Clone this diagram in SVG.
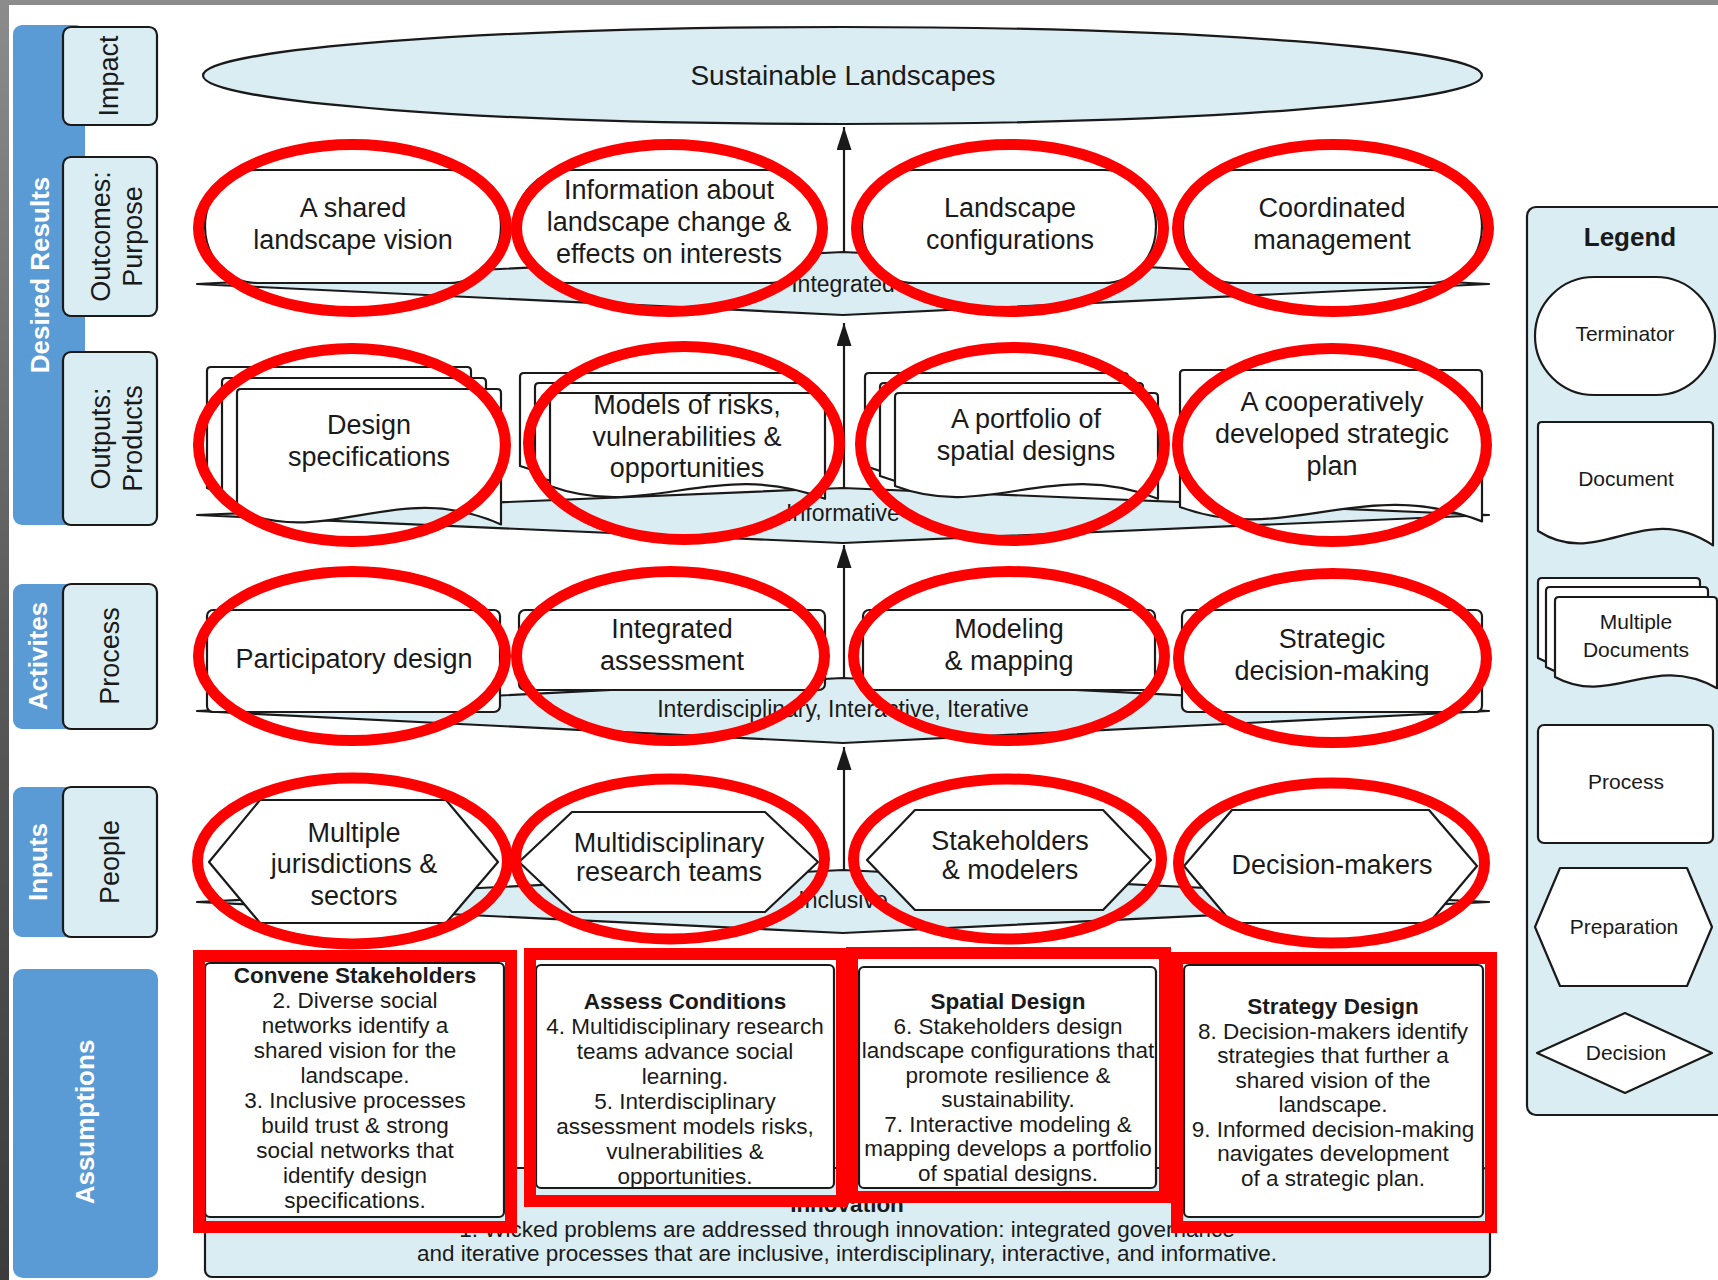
<svg xmlns="http://www.w3.org/2000/svg" width="1718" height="1280" viewBox="0 0 1718 1280">
<defs>
<linearGradient id="bg" x1="0" y1="0" x2="0" y2="1"><stop offset="0" stop-color="#8c8c8c"/><stop offset="0.5" stop-color="#5a5a5a"/><stop offset="1" stop-color="#3c3c3c"/></linearGradient>
<marker id="ah" markerWidth="23" markerHeight="15" refX="23" refY="7.5" orient="auto" markerUnits="userSpaceOnUse"><path d="M0,0 L23,7.5 L0,15 Z" fill="#1a1a1a"/></marker>
<style>
text{font-family:"Liberation Sans",Arial,Helvetica,sans-serif;fill:#1a1a1a;text-anchor:middle}
.lb{fill:#daedf3;stroke:#1a1a1a;stroke-width:2.2;stroke-linejoin:round}
.wn{fill:#ffffff;stroke:#1a1a1a;stroke-width:2.2;stroke-linejoin:round}
.blue{fill:#5b9bd5}
.red{fill:none;stroke:#ff0000;stroke-width:11}
.redr{fill:none;stroke:#ff0000;stroke-width:12}
.n{font-size:27px}
.side{font-size:27px}
.wh{font-size:26px;font-weight:bold;fill:#ffffff}
.band{font-size:23px}
.as{font-size:22.5px}
.b{font-weight:bold}
.lg{font-size:21px}
.ttl{font-size:28px}
.conn{stroke:#1a1a1a;stroke-width:2.2;fill:none}
</style>
</defs>

<rect x="0" y="0" width="1718" height="1280" fill="url(#bg)"/>
<rect x="9" y="5" width="1709" height="1275" fill="#ffffff"/>

<!-- side labels -->
<g id="side-desired-results">
<rect class="blue" x="13" y="25" width="72" height="500" rx="9"/>
<text class="wh" transform="rotate(-90 39 275)" x="39" y="285">Desired Results</text>
</g>
<g id="side-impact"><rect class="lb" x="63" y="27" width="94" height="98" rx="8"/><text class="side" transform="rotate(-90 110 76)" x="110" y="84">Impact</text></g>
<g id="side-outcomes"><rect class="lb" x="63" y="157" width="94" height="159" rx="8"/><text class="side" transform="rotate(-90 110 236.5)" x="110" y="236.5">Outcomes:</text><text class="side" transform="rotate(-90 110 236.5)" x="110" y="268.5">Purpose</text></g>
<g id="side-outputs"><rect class="lb" x="63" y="352" width="94" height="173" rx="8"/><text class="side" transform="rotate(-90 110 438.5)" x="110" y="438.5">Outputs:</text><text class="side" transform="rotate(-90 110 438.5)" x="110" y="470.5">Products</text></g>
<g id="side-activites"><rect class="blue" x="13" y="584" width="90" height="145" rx="9"/><text class="wh" transform="rotate(-90 38 656)" x="38" y="665">Activites</text></g>
<g id="side-process"><rect class="lb" x="63" y="584" width="94" height="145" rx="8"/><text class="side" transform="rotate(-90 110 656)" x="110" y="665">Process</text></g>
<g id="side-inputs"><rect class="blue" x="13" y="787" width="90" height="150" rx="9"/><text class="wh" transform="rotate(-90 38 862)" x="38" y="871">Inputs</text></g>
<g id="side-people"><rect class="lb" x="63" y="787" width="94" height="150" rx="8"/><text class="side" transform="rotate(-90 110 862)" x="110" y="871">People</text></g>
<g id="side-assumptions"><rect class="blue" x="13" y="969" width="145" height="309" rx="10"/><text class="wh" transform="rotate(-90 85 1122)" x="85" y="1131">Assumptions</text></g>

<!-- bands -->
<g id="band-integrated"><polygon class="lb" points="197,284 843,252 1489,284 843,315"/><text class="band" x="843" y="292">Integrated</text></g>
<g id="band-informative"><polygon class="lb" points="197,515 843,488 1489,515 843,543"/><text class="band" x="843" y="521">Informative</text></g>
<g id="band-interdisciplinary"><polygon class="lb" points="197,711 843,678 1489,711 843,743"/><text class="band" x="843" y="717">Interdisciplinary, Interactive, Iterative</text></g>
<g id="band-inclusive"><polygon class="lb" points="197,902 843,870 1489,902 843,933"/><text class="band" x="843" y="908">Inclusive</text></g>

<!-- connectors -->
<g id="connectors">
<line class="conn" x1="844" y1="252" x2="844" y2="127" marker-end="url(#ah)"/>
<line class="conn" x1="844" y1="488" x2="844" y2="323" marker-end="url(#ah)"/>
<line class="conn" x1="844" y1="678" x2="844" y2="545" marker-end="url(#ah)"/>
<line class="conn" x1="844" y1="870" x2="844" y2="747" marker-end="url(#ah)"/>
</g>

<!-- impact -->
<g id="impact"><ellipse class="lb" cx="842.5" cy="75.5" rx="639.5" ry="48.5"/><text class="ttl" x="843" y="85">Sustainable Landscapes</text></g>

<!-- outcomes -->
<g id="out-vision"><rect class="wn" x="205" y="170" width="296" height="113" rx="52" ry="56.5"/><text class="n" x="353" y="217">A shared</text><text class="n" x="353" y="249">landscape vision</text></g>
<g id="out-information"><rect class="wn" x="515" y="170" width="305" height="113" rx="52" ry="56.5"/><text class="n" x="669" y="199">Information about</text><text class="n" x="669" y="231">landscape change &amp;</text><text class="n" x="669" y="263">effects on interests</text></g>
<g id="out-configurations"><rect class="wn" x="862" y="170" width="294" height="113" rx="52" ry="56.5"/><text class="n" x="1010" y="217">Landscape</text><text class="n" x="1010" y="249">configurations</text></g>
<g id="out-management"><rect class="wn" x="1183" y="170" width="299" height="113" rx="52" ry="56.5"/><text class="n" x="1332" y="217">Coordinated</text><text class="n" x="1332" y="249">management</text></g>

<!-- outputs -->
<g id="prod-design-specs">
<path class="wn" d="M207,371 Q207,367 211,367 H467 Q471,367 471,371 V502.4 C365.4,455.6 299.4,527.6 207,488 Z"/>
<path class="wn" d="M222,382 Q222,378 226,378 H482 Q486,378 486,382 V513.4 C380.4,466.6 314.4,538.6 222,499 Z"/>
<path class="wn" d="M237,393 Q237,389 241,389 H497 Q501,389 501,393 V524.4 C395.4,477.6 329.4,549.6 237,510 Z"/>
<text class="n" x="369" y="434">Design</text><text class="n" x="369" y="466">specifications</text>
</g>
<g id="prod-models">
<path class="wn" d="M520,377 Q520,373 524,373 H791 Q795,373 795,377 V478.8 C685,437.2 616.25,501.2 520,466 Z"/>
<path class="wn" d="M535,387 Q535,383 539,383 H806 Q810,383 810,387 V488.8 C700,447.2 631.25,511.2 535,476 Z"/>
<path class="wn" d="M550,397 Q550,393 554,393 H821 Q825,393 825,397 V498.8 C715,457.2 646.25,521.2 550,486 Z"/>
<text class="n" x="687" y="414">Models of risks,</text><text class="n" x="687" y="446">vulnerabilities &amp;</text><text class="n" x="687" y="477">opportunities</text>
</g>
<g id="prod-portfolio">
<path class="wn" d="M865,377 Q865,373 869,373 H1124 Q1128,373 1128,377 V478.8 C1022.8,437.2 957.05,501.2 865,466 Z"/>
<path class="wn" d="M880,387 Q880,383 884,383 H1139 Q1143,383 1143,387 V488.8 C1037.8,447.2 972.05,511.2 880,476 Z"/>
<path class="wn" d="M895,397 Q895,393 899,393 H1154 Q1158,393 1158,397 V498.8 C1052.8,457.2 987.05,521.2 895,486 Z"/>
<text class="n" x="1026" y="428">A portfolio of</text><text class="n" x="1026" y="460">spatial designs</text>
</g>
<g id="prod-plan">
<path class="wn" d="M1180,374 Q1180,370 1184,370 H1478 Q1482,370 1482,374 V521.4 C1361.2,474.6 1285.7,546.6 1180,507 Z"/>
<text class="n" x="1332" y="411">A cooperatively</text><text class="n" x="1332" y="443">developed strategic</text><text class="n" x="1332" y="475">plan</text>
</g>

<!-- process -->
<g id="proc-participatory"><rect class="wn" x="207" y="610" width="293" height="102" rx="6"/><text class="n" x="354" y="668">Participatory design</text></g>
<g id="proc-assessment"><rect class="wn" x="519" y="610" width="306" height="80" rx="6"/><text class="n" x="672" y="638">Integrated</text><text class="n" x="672" y="670">assessment</text></g>
<g id="proc-modeling"><rect class="wn" x="863" y="610" width="292" height="80" rx="6"/><text class="n" x="1009" y="638">Modeling</text><text class="n" x="1009" y="670">&amp; mapping</text></g>
<g id="proc-strategic"><rect class="wn" x="1182" y="610" width="300" height="102" rx="6"/><text class="n" x="1332" y="648">Strategic</text><text class="n" x="1332" y="680">decision-making</text></g>

<!-- people -->
<g id="in-jurisdictions"><polygon class="wn" points="209,862 260,800 446,800 498,862 446,923 260,923"/><text class="n" x="354" y="842">Multiple</text><text class="n" x="354" y="873">jurisdictions &amp;</text><text class="n" x="354" y="905">sectors</text></g>
<g id="in-research"><polygon class="wn" points="519,862 572,812 765,812 818,862 765,912 572,912"/><text class="n" x="669" y="852">Multidisciplinary</text><text class="n" x="669" y="881">research teams</text></g>
<g id="in-stakeholders"><polygon class="wn" points="867,860 915,810 1103,810 1151,860 1103,910 915,910"/><text class="n" x="1010" y="850">Stakeholders</text><text class="n" x="1010" y="879">&amp; modelers</text></g>
<g id="in-decision-makers"><polygon class="wn" points="1184,866 1232,810 1429,810 1477,866 1429,923 1232,923"/><text class="n" x="1332" y="874">Decision-makers</text></g>

<!-- assumptions -->
<g id="innovation"><rect class="lb" x="205" y="1168" width="1285" height="109" rx="7"/>
<text class="as b" x="847" y="1212">Innovation</text>
<text class="as" x="847" y="1237">1. Wicked problems are addressed through innovation: integrated governance</text>
<text class="as" x="847" y="1261">and iterative processes that are inclusive, interdisciplinary, interactive, and informative.</text>
</g>
<g id="as-convene"><rect class="wn" x="205" y="963" width="299" height="254" rx="5"/>
<text class="as b" x="355" y="983">Convene Stakeholders</text>
<text class="as" x="355" y="1008">2. Diverse social</text>
<text class="as" x="355" y="1033">networks identify a</text>
<text class="as" x="355" y="1058">shared vision for the</text>
<text class="as" x="355" y="1083">landscape.</text>
<text class="as" x="355" y="1108">3. Inclusive processes</text>
<text class="as" x="355" y="1133">build trust &amp; strong</text>
<text class="as" x="355" y="1158">social networks that</text>
<text class="as" x="355" y="1183">identify design</text>
<text class="as" x="355" y="1208">specifications.</text>
</g>
<g id="as-assess"><rect class="wn" x="536" y="965" width="298" height="223" rx="5"/>
<text class="as b" x="685" y="1009">Assess Conditions</text>
<text class="as" x="685" y="1034">4. Multidisciplinary research</text>
<text class="as" x="685" y="1059">teams advance social</text>
<text class="as" x="685" y="1084">learning.</text>
<text class="as" x="685" y="1109">5. Interdisciplinary</text>
<text class="as" x="685" y="1134">assessment models risks,</text>
<text class="as" x="685" y="1159">vulnerabilities &amp;</text>
<text class="as" x="685" y="1184">opportunities.</text>
</g>
<g id="as-spatial"><rect class="wn" x="859" y="967" width="297" height="221" rx="5"/>
<text class="as b" x="1008" y="1009">Spatial Design</text>
<text class="as" x="1008" y="1033.5">6. Stakeholders design</text>
<text class="as" x="1008" y="1058">landscape configurations that</text>
<text class="as" x="1008" y="1082.5">promote resilience &amp;</text>
<text class="as" x="1008" y="1107">sustainability.</text>
<text class="as" x="1008" y="1131.5">7. Interactive modeling &amp;</text>
<text class="as" x="1008" y="1156">mapping develops a portfolio</text>
<text class="as" x="1008" y="1180.5">of spatial designs.</text>
</g>
<g id="as-strategy"><rect class="wn" x="1184" y="965" width="299" height="252" rx="5"/>
<text class="as b" x="1333" y="1014">Strategy Design</text>
<text class="as" x="1333" y="1038.5">8. Decision-makers identify</text>
<text class="as" x="1333" y="1063">strategies that further a</text>
<text class="as" x="1333" y="1087.5">shared vision of the</text>
<text class="as" x="1333" y="1112">landscape.</text>
<text class="as" x="1333" y="1136.5">9. Informed decision-making</text>
<text class="as" x="1333" y="1161">navigates development</text>
<text class="as" x="1333" y="1185.5">of a strategic plan.</text>
</g>

<!-- legend -->
<g id="legend">
<rect class="lb" x="1527" y="207" width="220" height="908" rx="9"/>
<text class="b" x="1630" y="246" font-size="26">Legend</text>
<rect class="wn" x="1535" y="277" width="180" height="118" rx="59"/>
<text class="lg" x="1625" y="341">Terminator</text>
<path class="wn" d="M1538,426 Q1538,422 1542,422 H1709 Q1713,422 1713,426 V545.4 C1643,498.6 1599.25,570.6 1538,531 Z"/>
<text class="lg" x="1626" y="486">Document</text>
<path class="wn" d="M1538,582 Q1538,578 1542,578 H1696 Q1700,578 1700,582 V669.2 C1635.2,632.8 1594.7,688.8 1538,658 Z"/>
<path class="wn" d="M1546,591 Q1546,587 1550,587 H1704 Q1708,587 1708,591 V678.2 C1643.2,641.8 1602.7,697.8 1546,667 Z"/>
<path class="wn" d="M1555,601 Q1555,597 1559,597 H1713 Q1717,597 1717,601 V688.2 C1652.2,651.8 1611.7,707.8 1555,677 Z"/>
<text class="lg" x="1636" y="629">Multiple</text>
<text class="lg" x="1636" y="657">Documents</text>
<rect class="wn" x="1538" y="725" width="175" height="118" rx="6"/>
<text class="lg" x="1626" y="789">Process</text>
<polygon class="wn" points="1535,927 1560,868 1687,868 1712,927 1687,986 1560,986"/>
<text class="lg" x="1624" y="934">Preparation</text>
<polygon class="wn" points="1537,1053 1625,1013 1712,1053 1625,1093"/>
<text class="lg" x="1626" y="1060">Decision</text>
</g>

<!-- red annotations -->
<g id="annotations">
<ellipse class="red" cx="352.5" cy="228" rx="154" ry="83.5"/>
<ellipse class="red" cx="669.5" cy="228" rx="153" ry="83.5"/>
<ellipse class="red" cx="1010" cy="228" rx="153.5" ry="83.5"/>
<ellipse class="red" cx="1333" cy="228" rx="155.5" ry="83.5"/>
<ellipse class="red" cx="352" cy="445" rx="153.5" ry="96.5"/>
<ellipse class="red" cx="684" cy="443" rx="155.5" ry="96.5"/>
<ellipse class="red" cx="1012.5" cy="444" rx="152" ry="96.5"/>
<ellipse class="red" cx="1332" cy="445" rx="154.5" ry="96.5"/>
<ellipse class="red" cx="352" cy="656" rx="153.5" ry="84.5"/>
<ellipse class="red" cx="670.5" cy="656" rx="154" ry="84.5"/>
<ellipse class="red" cx="1009" cy="656" rx="155.5" ry="84.5"/>
<ellipse class="red" cx="1332.5" cy="658" rx="154" ry="84.5"/>
<ellipse class="red" cx="352.5" cy="861" rx="155" ry="83"/>
<ellipse class="red" cx="670" cy="859" rx="154.5" ry="80"/>
<ellipse class="red" cx="1007.5" cy="859" rx="154" ry="80"/>
<ellipse class="red" cx="1331.5" cy="863" rx="153" ry="80"/>
<rect class="redr" x="199" y="956" width="312" height="271"/>
<rect class="redr" x="530" y="954" width="312" height="247"/>
<rect class="redr" x="852" y="953" width="313" height="244"/>
<rect class="redr" x="1177" y="958" width="314" height="269"/>
</g>
</svg>
